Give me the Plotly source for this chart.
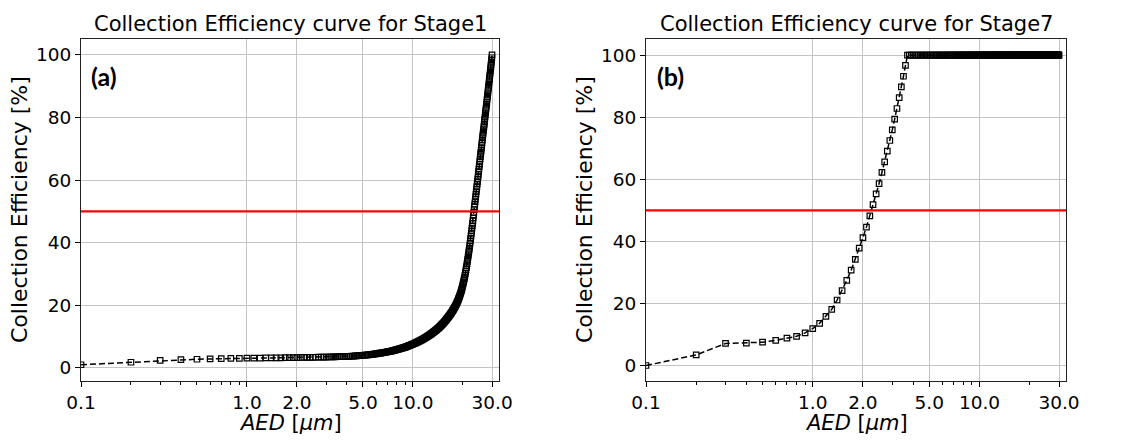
import plotly.graph_objects as go
from plotly.subplots import make_subplots

# Aerodynamic equivalent diameter grid [um], shared by both stages
aed_um = [
    0.1, 0.2, 0.3, 0.4, 0.5, 0.6, 0.7, 0.8, 0.9, 1.0,
    1.1, 1.2, 1.3, 1.4, 1.5, 1.6, 1.7, 1.8, 1.9, 2.0,
    2.1, 2.2, 2.3, 2.4, 2.5, 2.6, 2.7, 2.8, 2.9, 3.0,
    3.1, 3.2, 3.3, 3.4, 3.5, 3.6, 3.7, 3.8, 3.9, 4.0,
    4.1, 4.2, 4.3, 4.4, 4.5, 4.6, 4.7, 4.8, 4.9, 5.0,
    5.1, 5.2, 5.3, 5.4, 5.5, 5.6, 5.7, 5.8, 5.9, 6.0,
    6.1, 6.2, 6.3, 6.4, 6.5, 6.6, 6.7, 6.8, 6.9, 7.0,
    7.1, 7.2, 7.3, 7.4, 7.5, 7.6, 7.7, 7.8, 7.9, 8.0,
    8.1, 8.2, 8.3, 8.4, 8.5, 8.6, 8.7, 8.8, 8.9, 9.0,
    9.1, 9.2, 9.3, 9.4, 9.5, 9.6, 9.7, 9.8, 9.9, 10.0,
    10.1, 10.2, 10.3, 10.4, 10.5, 10.6, 10.7, 10.8, 10.9, 11.0,
    11.1, 11.2, 11.3, 11.4, 11.5, 11.6, 11.7, 11.8, 11.9, 12.0,
    12.1, 12.2, 12.3, 12.4, 12.5, 12.6, 12.7, 12.8, 12.9, 13.0,
    13.1, 13.2, 13.3, 13.4, 13.5, 13.6, 13.7, 13.8, 13.9, 14.0,
    14.1, 14.2, 14.3, 14.4, 14.5, 14.6, 14.7, 14.8, 14.9, 15.0,
    15.1, 15.2, 15.3, 15.4, 15.5, 15.6, 15.7, 15.8, 15.9, 16.0,
    16.1, 16.2, 16.3, 16.4, 16.5, 16.6, 16.7, 16.8, 16.9, 17.0,
    17.1, 17.2, 17.3, 17.4, 17.5, 17.6, 17.7, 17.8, 17.9, 18.0,
    18.1, 18.2, 18.3, 18.4, 18.5, 18.6, 18.7, 18.8, 18.9, 19.0,
    19.1, 19.2, 19.3, 19.4, 19.5, 19.6, 19.7, 19.8, 19.9, 20.0,
    20.1, 20.2, 20.3, 20.4, 20.5, 20.6, 20.7, 20.8, 20.9, 21.0,
    21.1, 21.2, 21.3, 21.4, 21.5, 21.6, 21.7, 21.8, 21.9, 22.0,
    22.1, 22.2, 22.3, 22.4, 22.5, 22.6, 22.7, 22.8, 22.9, 23.0,
    23.1, 23.2, 23.3, 23.4, 23.5, 23.6, 23.7, 23.8, 23.9, 24.0,
    24.1, 24.2, 24.3, 24.4, 24.5, 24.6, 24.7, 24.8, 24.9, 25.0,
    25.1, 25.2, 25.3, 25.4, 25.5, 25.6, 25.7, 25.8, 25.9, 26.0,
    26.1, 26.2, 26.3, 26.4, 26.5, 26.6, 26.7, 26.8, 26.9, 27.0,
    27.1, 27.2, 27.3, 27.4, 27.5, 27.6, 27.7, 27.8, 27.9, 28.0,
    28.1, 28.2, 28.3, 28.4, 28.5, 28.6, 28.7, 28.8, 28.9, 29.0,
    29.1, 29.2, 29.3, 29.4, 29.5, 29.6, 29.7, 29.8, 29.9, 30.0,
]

# Stage 1 collection efficiency [%]
eff_stage1 = [
    1.0, 1.8, 2.4, 2.6, 2.75, 2.85, 2.95, 3.0, 3.05, 3.1,
    3.12, 3.14, 3.16, 3.18, 3.2, 3.22, 3.24, 3.26, 3.28, 3.3,
    3.31, 3.33, 3.34, 3.36, 3.37, 3.39, 3.4, 3.42, 3.43, 3.45,
    3.47, 3.49, 3.51, 3.53, 3.55, 3.57, 3.59, 3.61, 3.63, 3.65,
    3.68, 3.71, 3.74, 3.77, 3.8, 3.84, 3.88, 3.92, 3.96, 4.0,
    4.04, 4.08, 4.13, 4.17, 4.22, 4.27, 4.32, 4.38, 4.44, 4.5,
    4.56, 4.62, 4.68, 4.74, 4.8, 4.86, 4.92, 4.98, 5.04, 5.1,
    5.16, 5.23, 5.3, 5.37, 5.44, 5.51, 5.58, 5.65, 5.72, 5.8,
    5.88, 5.96, 6.04, 6.12, 6.2, 6.28, 6.37, 6.46, 6.55, 6.64,
    6.73, 6.82, 6.91, 7.0, 7.1, 7.2, 7.3, 7.4, 7.5, 7.6,
    7.7, 7.8, 7.9, 8.0, 8.1, 8.2, 8.31, 8.42, 8.53, 8.64,
    8.75, 8.86, 8.97, 9.08, 9.19, 9.3, 9.42, 9.54, 9.66, 9.78,
    9.9, 10.02, 10.14, 10.26, 10.38, 10.5, 10.63, 10.76, 10.89, 11.02,
    11.15, 11.28, 11.41, 11.54, 11.67, 11.81, 11.95, 12.09, 12.23, 12.37,
    12.51, 12.66, 12.81, 12.96, 13.11, 13.26, 13.42, 13.58, 13.74, 13.9,
    14.06, 14.22, 14.39, 14.56, 14.73, 14.9, 15.07, 15.25, 15.43, 15.61,
    15.79, 15.97, 16.16, 16.35, 16.54, 16.73, 16.92, 17.12, 17.32, 17.52,
    17.72, 17.93, 18.14, 18.35, 18.56, 18.78, 19.0, 19.22, 19.45, 19.68,
    19.93, 20.19, 20.45, 20.72, 21.0, 21.28, 21.57, 21.87, 22.18, 22.5,
    22.85, 23.2, 23.56, 23.93, 24.31, 24.7, 25.1, 25.5, 26.0, 26.5,
    27.0, 27.5, 28.0, 28.5, 29.0, 29.6, 30.2, 30.8, 31.4, 32.0,
    32.6, 33.3, 34.0, 34.7, 35.4, 36.1, 36.8, 37.5, 38.2, 39.0,
    39.8, 40.6, 41.4, 42.2, 43.0, 43.8, 44.6, 45.4, 46.2, 47.0,
    47.9, 48.8, 49.7, 50.6, 51.5, 52.3, 53.1, 53.9, 54.7, 55.5,
    56.3, 57.1, 57.9, 58.7, 59.5, 60.3, 61.1, 61.9, 62.7, 63.5,
    64.3, 65.1, 65.9, 66.7, 67.5, 68.2, 68.9, 69.6, 70.4, 71.2,
    72.0, 72.8, 73.6, 74.3, 75.0, 75.7, 76.4, 77.1, 77.8, 78.6,
    79.4, 80.1, 80.8, 81.5, 82.2, 82.9, 83.6, 84.3, 85.0, 85.8,
    86.5, 87.2, 87.9, 88.6, 89.3, 90.0, 90.7, 91.4, 92.1, 92.8,
    93.5, 94.2, 94.9, 95.6, 96.3, 97.0, 97.7, 98.4, 99.1, 100.0,
]

# Stage 7 collection efficiency [%]
eff_stage7 = [
    0.0, 3.4, 7.1, 7.2, 7.5, 8.1, 8.8, 9.4, 10.5, 11.9,
    13.6, 15.8, 18.1, 21.1, 24.1, 27.4, 30.7, 34.2, 37.8, 41.2,
    44.6, 48.2, 51.8, 55.3, 58.6, 62.2, 65.6, 69.1, 72.5, 75.9,
    79.4, 82.8, 86.3, 89.8, 93.2, 96.7, 100, 100, 100, 100,
    100, 100, 100, 100, 100, 100, 100, 100, 100, 100,
    100, 100, 100, 100, 100, 100, 100, 100, 100, 100,
    100, 100, 100, 100, 100, 100, 100, 100, 100, 100,
    100, 100, 100, 100, 100, 100, 100, 100, 100, 100,
    100, 100, 100, 100, 100, 100, 100, 100, 100, 100,
    100, 100, 100, 100, 100, 100, 100, 100, 100, 100,
    100, 100, 100, 100, 100, 100, 100, 100, 100, 100,
    100, 100, 100, 100, 100, 100, 100, 100, 100, 100,
    100, 100, 100, 100, 100, 100, 100, 100, 100, 100,
    100, 100, 100, 100, 100, 100, 100, 100, 100, 100,
    100, 100, 100, 100, 100, 100, 100, 100, 100, 100,
    100, 100, 100, 100, 100, 100, 100, 100, 100, 100,
    100, 100, 100, 100, 100, 100, 100, 100, 100, 100,
    100, 100, 100, 100, 100, 100, 100, 100, 100, 100,
    100, 100, 100, 100, 100, 100, 100, 100, 100, 100,
    100, 100, 100, 100, 100, 100, 100, 100, 100, 100,
    100, 100, 100, 100, 100, 100, 100, 100, 100, 100,
    100, 100, 100, 100, 100, 100, 100, 100, 100, 100,
    100, 100, 100, 100, 100, 100, 100, 100, 100, 100,
    100, 100, 100, 100, 100, 100, 100, 100, 100, 100,
    100, 100, 100, 100, 100, 100, 100, 100, 100, 100,
    100, 100, 100, 100, 100, 100, 100, 100, 100, 100,
    100, 100, 100, 100, 100, 100, 100, 100, 100, 100,
    100, 100, 100, 100, 100, 100, 100, 100, 100, 100,
    100, 100, 100, 100, 100, 100, 100, 100, 100, 100,
    100, 100, 100, 100, 100, 100, 100, 100, 100, 100,
]

stage_titles = ["Collection Efficiency curve for Stage1",
                "Collection Efficiency curve for Stage7"]
panel_tags = ["(a)", "(b)"]
cutoff_level = 50

x_tick_vals = [0.1, 1, 2, 5, 10, 30]
x_tick_text = ["0.1", "1.0", "2.0", "5.0", "10.0", "30.0"]
x_minor_vals = [0.2, 0.3, 0.4, 0.5, 0.6, 0.7, 0.8, 0.9,
                3, 4, 6, 7, 8, 9, 20]
y_tick_vals = [0, 20, 40, 60, 80, 100]

FONT = "DejaVu Sans"
W, H = 1134, 440
ML, MR, MT, MB = 81, 68, 39, 59
PW = W - ML - MR
PH = H - MT - MB

dom_a = [0.0, (499 - ML) / PW]
dom_b = [(646 - ML) / PW, 1.0]

fig = make_subplots(rows=1, cols=2)

for col, eff in ((1, eff_stage1), (2, eff_stage7)):
    fig.add_trace(go.Scatter(
        x=aed_um, y=eff, mode="lines+markers",
        line=dict(color="black", width=1.5, dash="6px,3px"),
        marker=dict(symbol="square-open", size=5.5, color="black",
                    line=dict(color="black", width=1.2)),
        showlegend=False, hoverinfo="x+y",
    ), row=1, col=col)

y_ranges = [[-4.2, 105.1], [-5.0, 105.2]]
for i, dom in enumerate((dom_a, dom_b)):
    n = "" if i == 0 else "2"
    fig.layout["xaxis" + n].update(
        domain=dom, type="log", range=[-1, 1.519],
        tickmode="array", tickvals=x_tick_vals, ticktext=x_tick_text,
        ticks="outside", ticklen=5, tickwidth=1, tickcolor="black",
        showgrid=True, gridcolor="#c4c4c4", gridwidth=1,
        showline=True, linecolor="#222", linewidth=1, mirror=True,
        zeroline=False,
        minor=dict(tickmode="array", tickvals=x_minor_vals, ticks="outside",
                   ticklen=3, tickwidth=0.8, tickcolor="black", showgrid=False),
        tickfont=dict(family=FONT, size=18.5, color="black"),
    )
    fig.layout["yaxis" + n].update(
        range=y_ranges[i], tickmode="array", tickvals=y_tick_vals,
        ticks="outside", ticklen=5, tickwidth=1, tickcolor="black",
        showgrid=True, gridcolor="#c4c4c4", gridwidth=1,
        showline=True, linecolor="#222", linewidth=1, mirror=True,
        zeroline=False,
        tickfont=dict(family=FONT, size=18.5, color="black"),
    )
    # 50 % cut-off line
    fig.add_shape(type="line", xref=f"x{n} domain", yref=f"y{n}",
                  x0=0, x1=1, y0=cutoff_level, y1=cutoff_level,
                  line=dict(color="red", width=2.2), layer="above")

    cx = (dom[0] + dom[1]) / 2
    fig.add_annotation(text=stage_titles[i], xref="paper", yref="paper",
                       x=cx, y=(H - MB - 24) / PH, showarrow=False,
                       xanchor="center", yanchor="middle",
                       font=dict(family=FONT, size=21, color="black"))
    fig.add_annotation(text="<i>AED</i> [<i>μm</i>]", xref="paper", yref="paper",
                       x=cx, y=(H - MB - 423) / PH, showarrow=False,
                       xanchor="center", yanchor="middle",
                       font=dict(family=FONT, size=21, color="black"))
    ylab_x = 19 if i == 0 else 584
    fig.add_annotation(text="Collection Efficiency [%]", xref="paper", yref="paper",
                       x=(ylab_x - ML) / PW, y=0.5, textangle=-90, showarrow=False,
                       xanchor="center", yanchor="middle",
                       font=dict(family=FONT, size=22, color="black"))
    tag_x = 104 if i == 0 else 670
    fig.add_annotation(text=f"<b>{panel_tags[i]}</b>", xref="paper", yref="paper",
                       x=(tag_x - ML) / PW, y=(H - MB - 76) / PH, showarrow=False,
                       xanchor="center", yanchor="middle",
                       font=dict(family="Lato", size=25, color="black"))

fig.update_layout(
    width=W, height=H,
    margin=dict(l=ML, r=MR, t=MT, b=MB),
    paper_bgcolor="white", plot_bgcolor="white",
    font=dict(family=FONT, color="black"),
)

fig.write_html("out.html")
